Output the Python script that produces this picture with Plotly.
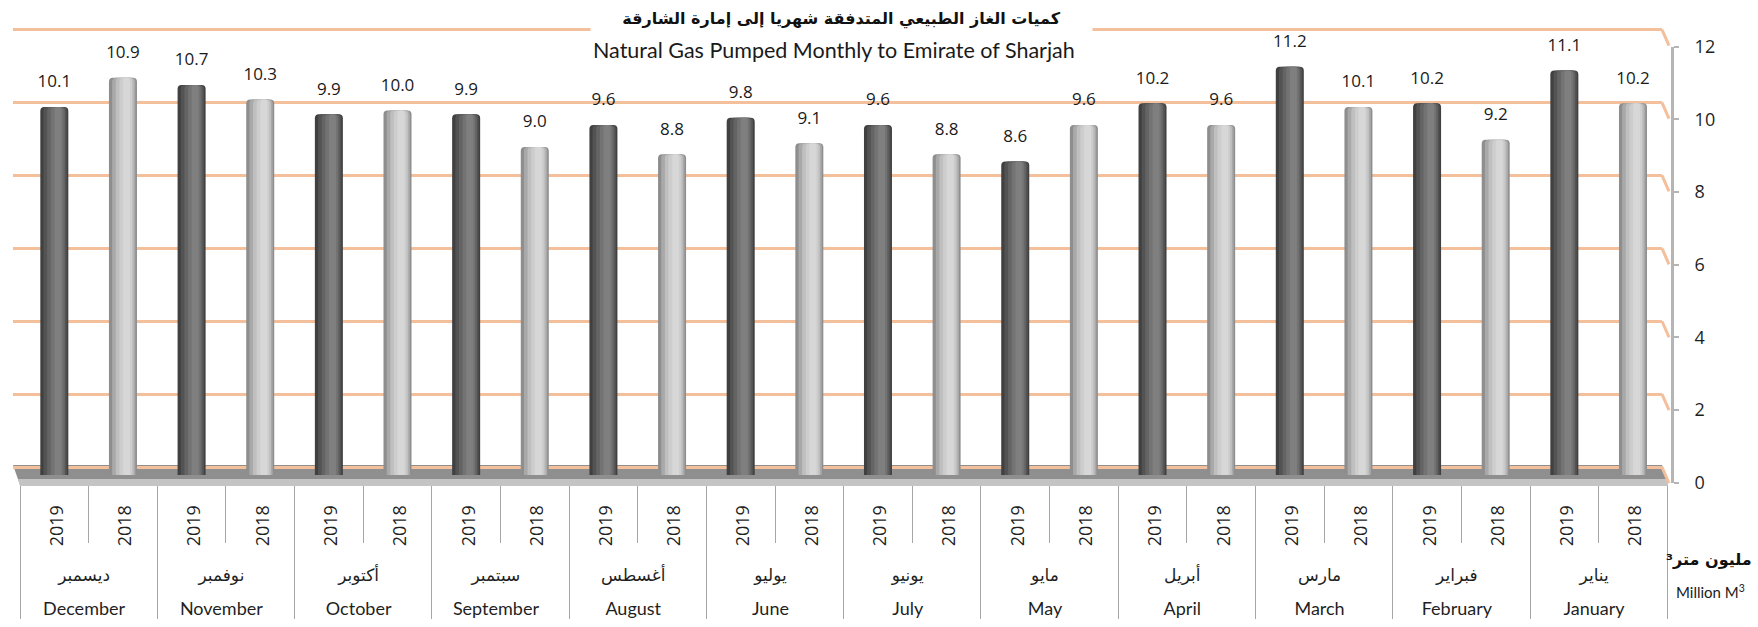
import plotly.graph_objects as go

W, H = 1758, 627

# ---- data (months run right-to-left: December first, January last) ----
months_ar = ["ديسمبر", "نوفمبر", "أكتوبر", "سبتمبر", "أغسطس", "يوليو",
             "يونيو", "مايو", "أبريل", "مارس", "فبراير", "يناير"]
months_en = ["December", "November", "October", "September", "August", "June",
             "July", "May", "April", "March", "February", "January"]
years = ["2019", "2018"]
gas_2019 = [10.1, 10.7, 9.9, 9.9, 9.6, 9.8, 9.6, 8.6, 10.2, 11.2, 10.2, 11.1]
gas_2018 = [10.9, 10.3, 10.0, 9.0, 8.8, 9.1, 8.8, 9.6, 9.6, 10.1, 9.2, 10.2]
y_ticks = [0, 2, 4, 6, 8, 10, 12]

title_ar = "كميات الغاز الطبيعي المتدفقة شهريا إلى إمارة الشارقة"
title_en = "Natural Gas Pumped Monthly to Emirate of Sharjah"
unit_ar = "مليون متر³"
unit_en = "Million M<sup>3</sup>"


def fx(px):
    return px / W


def fy(py):
    return 1 - py / H


month_labels = [
    f"<span style='font-family:DejaVu Sans;font-size:17px'>{a}</span><br>"
    f"<span style='font-family:Lato;font-size:18px'>{e}</span>"
    for a, e in zip(months_ar, months_en)
]
year_labels = {yr: f"<span style='font-size:18px'>{yr}</span>" for yr in years}

# cylinder shading: stacked bars of decreasing width, lighter towards the highlight
BAR_W = 0.408
bands = [(1.00, 0.000), (0.83, 0.012), (0.64, 0.026), (0.45, 0.040), (0.25, 0.052)]
shades = {
    "2019": ["#404040", "#535353", "#646464", "#737373", "#7f7f7f"],
    "2018": ["#8e8e8e", "#a9a9a9", "#bfbfbf", "#cdcdcd", "#d7d7d7"],
}
series = {"2019": gas_2019, "2018": gas_2018}

fig = go.Figure()

# back-wall subplot (carries the gridlines)
fig.add_trace(go.Scatter(x=[0.5], y=[0], xaxis="x", yaxis="y", mode="markers",
                         marker=dict(color="rgba(0,0,0,0)"), hoverinfo="skip"))

for yr in years:
    for (frac, shift), col in zip(bands, shades[yr]):
        w = BAR_W * frac
        fig.add_trace(go.Bar(
            x=[month_labels, [year_labels[yr]] * len(months_en)],
            y=series[yr],
            xaxis="x2", yaxis="y2",
            width=w, offset=-w / 2 + shift,
            marker=dict(color=col, line=dict(width=0), cornerradius=4),
            hoverinfo="skip",
        ))

# value labels + year boundary ticks (overlay category axis)
cats, vals = [], []
for m, a, b in zip(months_en, gas_2019, gas_2018):
    cats += [f"{m} 2019", f"{m} 2018"]
    vals += [a, b]
fig.add_trace(go.Scatter(
    x=cats, y=vals, xaxis="x4", yaxis="y2",
    mode="markers+text",
    marker=dict(size=23, color="rgba(0,0,0,0)"),
    text=[f"{v:.1f}" for v in vals],
    textposition="top center",
    textfont=dict(family="Open Sans", size=17, color="#1a1a1a"),
    cliponaxis=False, hoverinfo="skip",
))

# value axis on the right
fig.add_trace(go.Scatter(x=[0.5], y=[0], xaxis="x3", yaxis="y3", mode="markers",
                         marker=dict(color="rgba(0,0,0,0)"), hoverinfo="skip"))

GRID = "#f4bf9b"
shapes = [
    # floor slab
    dict(type="path", xref="paper", yref="paper", layer="below",
         path=f"M {fx(13)} {fy(465)} L {fx(1662)} {fy(465)} L {fx(1668)} {fy(481)} "
              f"L {fx(1668)} {fy(485)} L {fx(20)} {fy(485)} Z",
         fillcolor="#8f8f8f", line=dict(width=0)),
    dict(type="path", xref="paper", yref="paper", layer="below",
         path=f"M {fx(18)} {fy(479)} L {fx(1668)} {fy(479)} L {fx(1668)} {fy(486)} "
              f"L {fx(20)} {fy(486)} Z",
         fillcolor="#c4c4c4", line=dict(width=0)),
]
# gridline bends from the back wall down to the value axis
for v in y_ticks:
    shapes.append(dict(type="line", xref="paper", yref="y", ysizemode="pixel",
                       yanchor=v, x0=fx(1662), x1=fx(1669), y0=0, y1=-16,
                       line=dict(color=GRID, width=3), layer="below"))

annotations = [
    dict(text=f"<b>{title_ar}</b>", x=fx(841), y=fy(19), xref="paper", yref="paper",
         showarrow=False, xanchor="center", yanchor="middle",
         font=dict(family="DejaVu Sans", size=16, color="#111111"),
         bgcolor="white", width=493, borderpad=4),
    dict(text=title_en, x=fx(834), y=fy(50), xref="paper", yref="paper",
         showarrow=False, xanchor="center", yanchor="middle",
         font=dict(family="Lato", size=21.5, color="#1a1a1a")),
    dict(text=f"<b>{unit_ar}</b>", x=fx(1709), y=fy(559), xref="paper", yref="paper",
         showarrow=False, xanchor="center", yanchor="middle",
         font=dict(family="DejaVu Sans", size=16, color="#111111")),
    dict(text=unit_en, x=fx(1710), y=fy(591), xref="paper", yref="paper",
         showarrow=False, xanchor="center", yanchor="middle",
         font=dict(family="Lato", size=15, color="#1a1a1a")),
]

fig.update_layout(
    width=W, height=H,
    margin=dict(l=0, r=0, t=0, b=0, autoexpand=False),
    paper_bgcolor="white", plot_bgcolor="rgba(0,0,0,0)",
    barmode="overlay", showlegend=False,
    shapes=shapes, annotations=annotations,
    xaxis=dict(domain=[fx(12.7), fx(1662)], range=[0, 1], visible=False, anchor="y",
               automargin=False),
    yaxis=dict(domain=[fy(496.2), fy(18.7)], range=[-0.8, 12.3], anchor="x",
               tickvals=y_ticks, showgrid=True, gridcolor=GRID, gridwidth=3,
               showticklabels=False, ticks="", zeroline=False, showline=False,
               automargin=False),
    xaxis2=dict(domain=[fx(20), fx(1667.3)], type="multicategory", range=[-0.5, 23.5],
                anchor="free", position=fy(485),
                showdividers=True, dividercolor="#a6a6a6", dividerwidth=1,
                ticks="", tickangle=-90, ticklabelstandoff=14,
                tickfont=dict(family="Open Sans", size=26, color="#1f1f1f"),
                showgrid=False, showline=False, zeroline=False, automargin=False),
    yaxis2=dict(domain=[fy(475), fy(26.7)], range=[0, 12.3], anchor="x2", visible=False,
                automargin=False),
    xaxis3=dict(domain=[0.9, fx(1671)], range=[0, 1], visible=False, anchor="y3",
                automargin=False),
    yaxis3=dict(domain=[fy(482.7), fy(46.7)], range=[0, 12], anchor="x3", side="right",
                tickvals=y_ticks, showline=True, linecolor="#b5b5b5", linewidth=3,
                ticks="outside", ticklen=5, tickwidth=1.5, tickcolor="#b5b5b5",
                tickfont=dict(family="Open Sans", size=18, color="#1f1f1f"),
                ticklabelstandoff=12, showgrid=False, zeroline=False, automargin=False),
    xaxis4=dict(overlaying="x2", type="category", range=[-0.5, 23.5],
                anchor="free", position=fy(485),
                ticks="outside", tickson="boundaries", ticklen=57, tickwidth=1,
                tickcolor="#a6a6a6", showticklabels=False, showgrid=False,
                zeroline=False, showline=False, automargin=False),
)

fig.write_html("out.html")
